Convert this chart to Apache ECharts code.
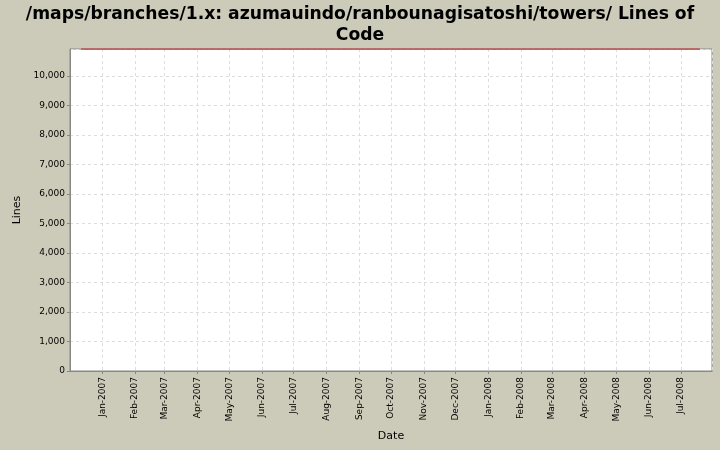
<!DOCTYPE html>
<html>
<head>
<meta charset="utf-8">
<script src="https://cdn.jsdelivr.net/npm/echarts@6/dist/echarts.min.js"></script>
<style>
  html, body { margin: 0; padding: 0; background: #cccbb9; }
  #main { width: 720px; height: 450px; }
</style>
</head>
<body>
<div id="main"></div>
<script>
(function () {
  var chartTitle = '/maps/branches/1.x: azumauindo/ranbounagisatoshi/towers/ Lines of\nCode';
  var monthNames = ['Jan', 'Feb', 'Mar', 'Apr', 'May', 'Jun', 'Jul', 'Aug', 'Sep', 'Oct', 'Nov', 'Dec'];
  // lines of code over time (flat, at the top of the range)
  var dates = ['2006-12-12', '2008-07-19'];
  var lines = [10915, 10915];

  var myChart = echarts.init(document.getElementById('main'));
  var day = 24 * 3600 * 1000;

  var option = {
    backgroundColor: '#cccbb9',
    animation: false,
    title: {
      text: chartTitle,
      left: 'center',
      top: -1,
      textStyle: {
        fontFamily: 'DejaVu Sans',
        fontSize: 17.2,
        fontWeight: 'bold',
        color: '#000',
        lineHeight: 21
      }
    },
    grid: {
      left: 70, right: 8, top: 49, bottom: 79,
      show: true,
      backgroundColor: '#ffffff',
      borderColor: '#888888',
      borderWidth: 1
    },
    xAxis: {
      type: 'time',
      min: +new Date('2006-12-01T12:00:00'),
      max: +new Date('2008-07-30T12:00:00'),
      minInterval: 28 * day,
      maxInterval: 31 * day,
      name: 'Date',
      nameLocation: 'middle',
      nameGap: 60,
      nameTextStyle: { fontFamily: 'DejaVu Sans', fontSize: 11, color: '#000' },
      axisLine: { lineStyle: { color: '#888888' } },
      axisTick: { show: true, length: 3, lineStyle: { color: '#888888' } },
      axisLabel: {
        rotate: 90,
        fontFamily: 'DejaVu Sans',
        fontSize: 9,
        color: '#000',
        margin: 6,
        hideOverlap: false,
        formatter: function (v) {
          var d = new Date(v);
          return monthNames[d.getMonth()] + '-' + d.getFullYear();
        }
      },
      splitLine: { show: true, lineStyle: { color: '#dddddd', type: [3, 3] } }
    },
    yAxis: {
      type: 'value',
      min: 0,
      max: 10915,
      interval: 1000,
      name: 'Lines',
      nameLocation: 'middle',
      nameGap: 42,
      nameTextStyle: { fontFamily: 'DejaVu Sans', fontSize: 11, color: '#000' },
      axisLine: { show: true, lineStyle: { color: '#888888' } },
      axisTick: { show: true, length: 3, lineStyle: { color: '#888888' } },
      axisLabel: {
        fontFamily: 'DejaVu Sans',
        fontSize: 9,
        color: '#000',
        margin: 5,
        showMaxLabel: false,
        formatter: function (v) { return v.toLocaleString('en-US'); }
      },
      splitLine: { show: true, lineStyle: { color: '#dddddd', type: [3, 3] } }
    },
    series: [{
      name: 'Lines',
      type: 'line',
      showSymbol: false,
      lineStyle: { color: '#c43c3c', width: 1.5 },
      data: dates.map(function (d, i) { return [d, lines[i]]; })
    }]
  };

  myChart.setOption(option);
})();
</script>
</body>
</html>
